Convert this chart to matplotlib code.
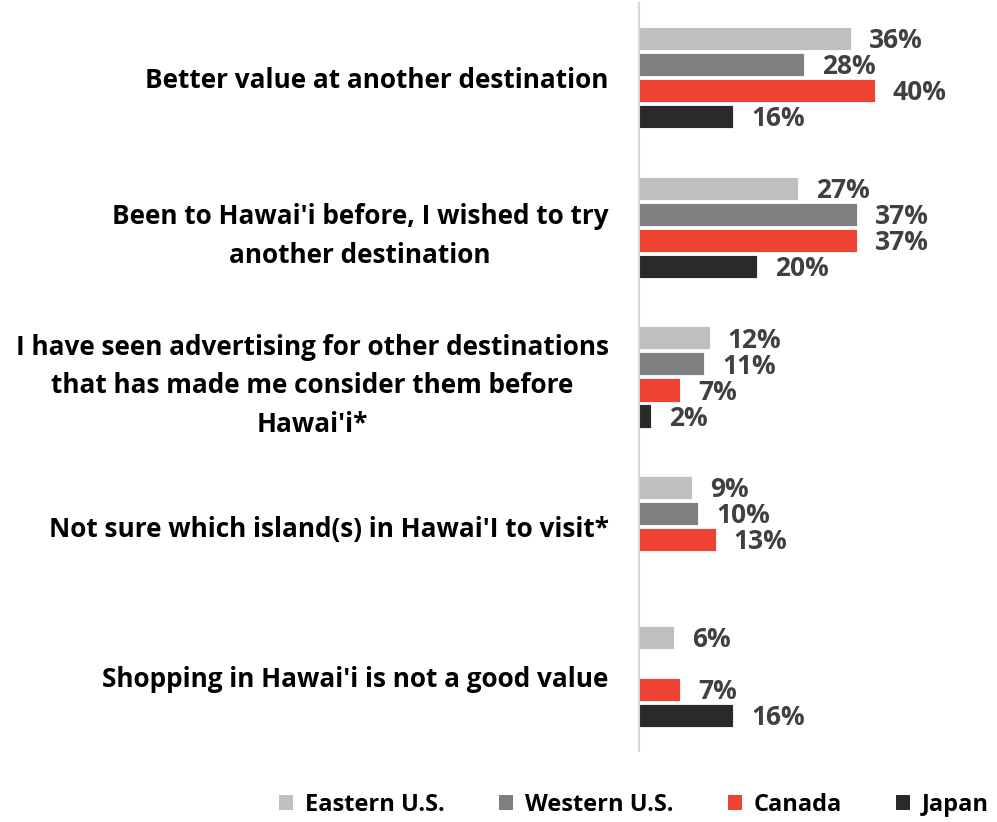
import numpy as np
import matplotlib.pyplot as plt
from matplotlib.patches import Patch

categories = [
    "Better value at another destination",
    "Been to Hawai'i before, I wished to try\nanother destination",
    "I have seen advertising for other destinations\nthat has made me consider them before\nHawai'i*",
    "Not sure which island(s) in Hawai'I to visit*",
    "Shopping in Hawai'i is not a good value",
]
series_names = ["Eastern U.S.", "Western U.S.", "Canada", "Japan"]
eastern_us = [36, 27, 12, 9, 6]
western_us = [28, 37, 11, 10, None]
canada = [40, 37, 7, 13, 7]
japan = [16, 20, 2, None, 16]

colors = ["#BFBFBF", "#7F7F7F", "#EE4232", "#2A2A2A"]
label_color = "#404040"
font = "Open Sans"

plt.rcParams["font.family"] = [font, "DejaVu Sans"]

fig = plt.figure(figsize=(9.97, 8.22), dpi=100)
ax = fig.add_axes([0.641, 0.0864, 0.35, 0.910])

y = np.arange(len(categories))
bar_pitch = 0.174
bar_h = 0.154

for k, (name, values, color) in enumerate(zip(series_names, [eastern_us, western_us, canada, japan], colors)):
    offset = (k - 1.5) * bar_pitch
    for i, v in enumerate(values):
        if v is None:
            continue
        yy = y[i] + offset
        ax.barh(yy, v, height=bar_h, color=color, edgecolor="white", linewidth=0.6)
        ax.annotate(f"{v}%", (v, yy), xytext=(13, -1.5), textcoords="offset points",
                    ha="left", va="center", fontsize=19, fontweight="bold",
                    color=label_color)

ax.set_ylim(len(categories) - 0.5, -0.5)
ax.set_xlim(0, 59.2)
ax.set_yticks(y)
ax.set_yticklabels(categories, fontsize=18.8, fontweight="bold", color="black")
for lbl in ax.get_yticklabels():
    lbl.set_linespacing(1.56)
    lbl.set_multialignment("center")
ax.tick_params(axis="y", length=0, pad=22)
ax.set_xticks([])
for side in ["top", "right", "bottom"]:
    ax.spines[side].set_visible(False)
ax.spines["left"].set_color("#D9D9D9")
ax.spines["left"].set_linewidth(1.5)

handles = [Patch(facecolor=c, edgecolor="none") for c in colors]
fig.legend(handles, series_names, loc="center", bbox_to_anchor=(0.636, 0.021), ncol=4,
           frameon=False, handlelength=0.6, handleheight=0.6, handletextpad=0.5,
           columnspacing=2.3, prop={"weight": "bold", "size": 17})

fig.savefig("out.png", dpi=100)
